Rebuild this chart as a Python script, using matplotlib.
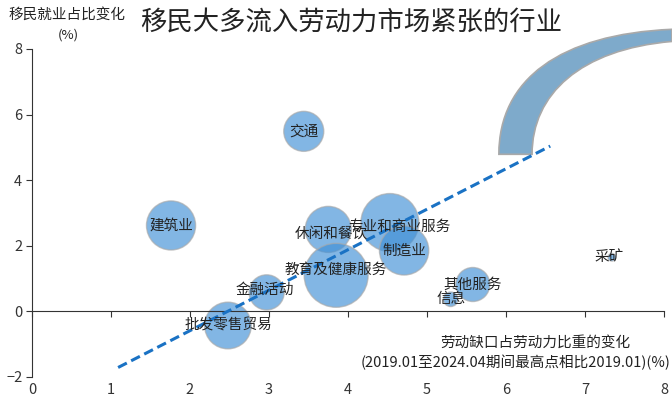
import matplotlib
matplotlib.use("Agg")
import matplotlib.pyplot as plt
from matplotlib.path import Path
from matplotlib.patches import PathPatch

plt.rcParams['font.family'] = ['Noto Sans CJK SC', 'DejaVu Sans']

# Industries: labour-shortage change (x) vs. change in immigrant employment share (y)
industries = ['交通', '建筑业', '休闲和餐饮', '专业和商业服务', '制造业',
              '教育及健康服务', '金融活动', '批发零售贸易', '其他服务', '信息', '采矿']
shortage_change = [3.44, 1.76, 3.75, 4.53, 4.71, 3.85, 2.97, 2.48, 5.58, 5.30, 7.34]
immigrant_share_change = [5.49, 2.62, 2.50, 2.71, 1.86, 1.10, 0.58, -0.43, 0.82, 0.37, 1.65]
bubble_size = [830, 1250, 1100, 1740, 1260, 2120, 640, 1130, 600, 110, 30]

# Trend line end points
trend_x = [1.09, 6.56]
trend_y = [-1.71, 5.04]

x_ticks = [0, 1, 2, 3, 4, 5, 6, 7, 8]
y_ticks = [-2, 0, 2, 4, 6, 8]

# label nudges in points (dx, dy)
label_offsets = {
    '休闲和餐饮': (2, -3), '专业和商业服务': (7, -3), '教育及健康服务': (0, 4),
    '金融活动': (-1, 2), '采矿': (-2, 0),
}

fig = plt.figure(figsize=(6.72, 4.03), dpi=100)
ax = fig.add_axes([32 / 672, 26 / 403, 632 / 672, 328 / 403])
ax.set_xlim(0, 8)
ax.set_ylim(-2, 8)

ax.scatter(shortage_change, immigrant_share_change, s=bubble_size,
           color='#3f8fd6', alpha=0.65, edgecolors='#a9a9a9', linewidths=1.0,
           zorder=2)

ax.plot(trend_x, trend_y, linestyle=(0, (3.2, 1.6)), color='#1a72c4',
        linewidth=2.2, zorder=3)

for name, x, y in zip(industries, shortage_change, immigrant_share_change):
    dx, dy = label_offsets.get(name, (0, 0))
    ax.annotate(name, (x, y), xytext=(dx, dy), textcoords='offset points',
                ha='center', va='center', fontsize=10.5, color='#222222',
                zorder=4)

# Oversized arc-shaped bubble at the upper right
outer = [(5.91, 4.79), (5.91, 7.07), (6.68, 8.45), (8.10, 8.60)]
inner = [(8.10, 8.23), (6.94, 7.99), (6.33, 6.62), (6.33, 4.79)]
verts = outer + inner + [outer[0]]
codes = ([Path.MOVETO] + [Path.CURVE4] * 3 + [Path.LINETO] + [Path.CURVE4] * 3
         + [Path.CLOSEPOLY])
ax.add_patch(PathPatch(Path(verts, codes), facecolor='#7eaacb',
                       edgecolor='#a9a9a9', linewidth=1.2, clip_on=False,
                       zorder=1))

# Spines: left y axis, horizontal axis through zero
for side in ('top', 'right'):
    ax.spines[side].set_visible(False)
ax.spines['bottom'].set_position(('data', 0))
ax.spines['bottom'].set_color('#333333')
ax.spines['left'].set_color('#333333')

ax.set_yticks(y_ticks)
ax.tick_params(axis='y', direction='out', length=4, color='#333333',
               labelsize=10.5, labelcolor='#333333', pad=3)
ax.set_xticks(x_ticks)
ax.tick_params(axis='x', direction='out', length=4, color='#333333',
               labelbottom=False)

sec = ax.secondary_xaxis('bottom')
sec.set_xticks(x_ticks)
sec.spines['bottom'].set_visible(False)
sec.tick_params(axis='x', length=0, labelsize=10.5, labelcolor='#333333', pad=4)

fig.text(140 / 672, 1 - 22 / 403, '移民大多流入劳动力市场紧张的行业',
         fontsize=19, color='#222222', ha='left', va='center')
fig.text(67 / 672, 1 - 15 / 403, '移民就业占比变化', fontsize=10.5,
         color='#222222', ha='center', va='center')
fig.text(68 / 672, 1 - 35 / 403, '(%)', fontsize=9.5, color='#222222',
         ha='center', va='center')
fig.text(535 / 672, 1 - 343 / 403, '劳动缺口占劳动力比重的变化', fontsize=10.5,
         color='#222222', ha='center', va='center')
fig.text(670 / 672, 1 - 362 / 403, '(2019.01至2024.04期间最高点相比2019.01)(%)',
         fontsize=10.5, color='#222222', ha='right', va='center')

fig.savefig('out.png', dpi=100)
